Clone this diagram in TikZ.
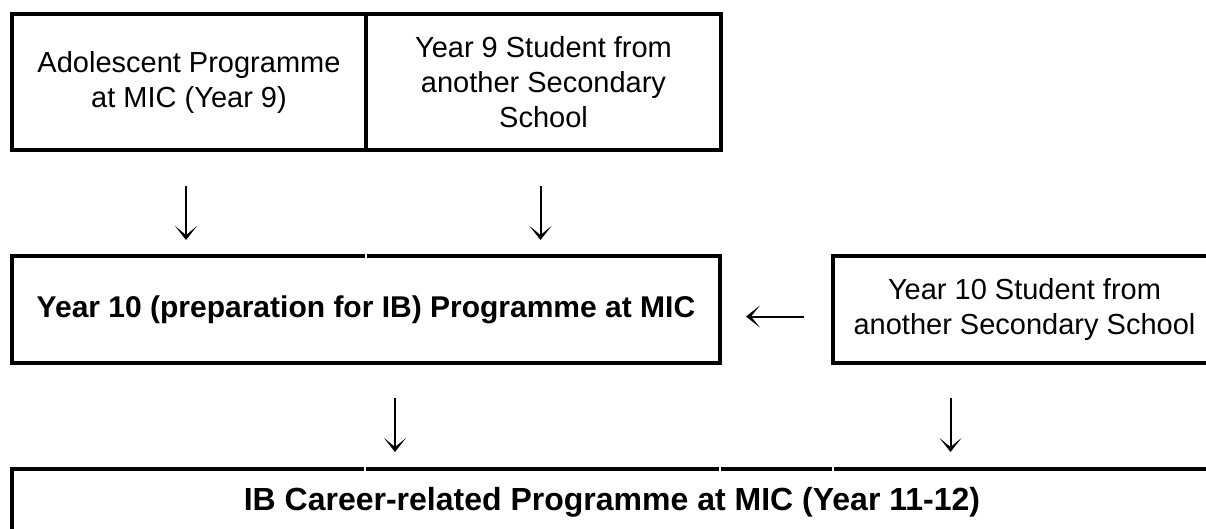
\documentclass[tikz,border=0pt]{standalone}
\usepackage{fontspec}
\setmainfont{Liberation Sans}
\usetikzlibrary{arrows.meta,positioning,calc}
\tikzset{
  >={Stealth[length=14pt,width=22pt,inset=9pt]},
  box/.style={draw=black,line width=3.5pt,outer sep=0pt,inner sep=4pt,align=center,font=\fontsize{29}{35}\selectfont},
  bbox/.style={box,font=\fontsize{30}{36}\selectfont\bfseries},
  arr/.style={->,draw=black,line width=2pt},
  gap/.style={draw=white,line width=2.5pt},
}
\begin{document}
\begin{tikzpicture}[x=1pt,y=1pt]
\useasboundingbox (0,0) rectangle (1206,-529);
\clip (0,0) rectangle (1206,-529);
% top row
\node[box,minimum width=354pt,minimum height=136pt,anchor=north west] (adol) at (12,-14) {Adolescent Programme\\at MIC (Year 9)};
\node[box,minimum width=355pt,minimum height=136pt,right=0pt of adol] (yrnine) {Year 9 Student from\\another Secondary\\School};
% middle row
\node[bbox,minimum width=708pt,minimum height=107pt,anchor=north west] (yrten) at ([yshift=-106pt]adol.south west) {Year 10 (preparation for IB) Programme at MIC};
\node[box,minimum width=383pt,minimum height=107pt,right=113pt of yrten] (yrtenout) {Year 10 Student from\\another Secondary School};
% bottom row
\node[bbox,font=\fontsize{32}{38}\selectfont\bfseries,minimum width=1200pt,minimum height=66pt,anchor=north west] (ibcp) at ([yshift=-106pt]yrten.south west) {IB Career-related Programme at MIC (Year 11-12)};
% small breaks in the borders
\draw[gap] (366,-251) -- (366,-261);
\foreach \gx in {365,720,833} \draw[gap] (\gx,-464) -- (\gx,-474);
% arrows
\draw[arr] ([xshift=-3pt,yshift=-36pt]adol.south) -- ([xshift=-3pt,yshift=16pt]adol.south |- yrten.north);
\draw[arr] ([xshift=-3pt,yshift=-36pt]yrnine.south) -- ([xshift=-3pt,yshift=16pt]yrnine.south |- yrten.north);
\draw[arr] ([xshift=-29pt,yshift=-7pt]yrtenout.west) -- ([xshift=26pt,yshift=-7pt]yrten.east);
\draw[arr] ([xshift=29pt,yshift=-35pt]yrten.south) -- ([xshift=29pt,yshift=17pt]yrten.south |- ibcp.north);
\draw[arr] ([xshift=-74pt,yshift=-35pt]yrtenout.south) -- ([xshift=-74pt,yshift=17pt]yrtenout.south |- ibcp.north);
\end{tikzpicture}
\end{document}
